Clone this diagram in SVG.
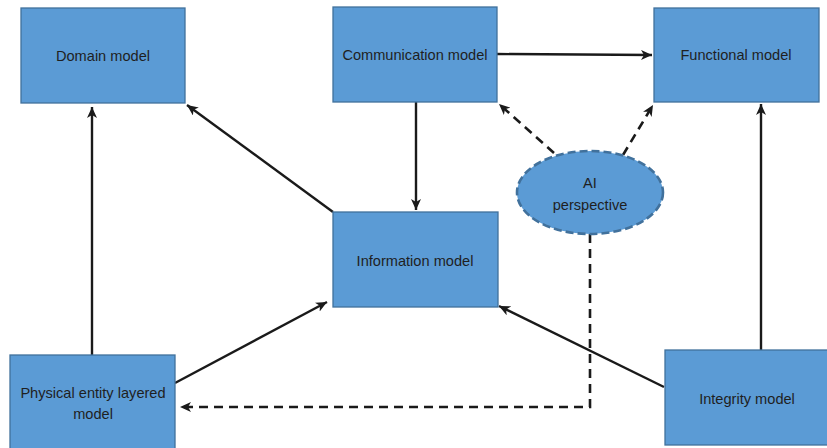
<svg xmlns="http://www.w3.org/2000/svg" width="827" height="448" viewBox="0 0 827 448">
<defs>
<style>
.box{fill:#5B9BD5;stroke:#41719C;stroke-width:1.3}
.lbl{font-family:"Liberation Sans",Arial,sans-serif;font-size:14.6px;fill:#1f1f1f;text-anchor:middle}
.c{fill:none;stroke:#1a1a1a;stroke-width:2.4}
.d{fill:none;stroke:#1a1a1a;stroke-width:2.6;stroke-dasharray:9,6}
</style>
<marker id="ah" markerUnits="userSpaceOnUse" markerWidth="12" markerHeight="10" refX="11" refY="5" orient="auto">
<path d="M0,0 L11,5 L0,10 L3,5 Z" fill="#1a1a1a"/>
</marker>
</defs>
<rect width="827" height="448" fill="#ffffff"/>
<g id="connectors">
<line class="c" x1="497" y1="54" x2="652" y2="55" marker-end="url(#ah)"/>
<line class="c" x1="416" y1="102" x2="416" y2="210" marker-end="url(#ah)"/>
<line class="c" x1="333" y1="212" x2="187" y2="105" marker-end="url(#ah)"/>
<line class="c" x1="92" y1="355" x2="92" y2="107" marker-end="url(#ah)"/>
<line class="c" x1="175" y1="383" x2="327" y2="302" marker-end="url(#ah)"/>
<line class="c" x1="664" y1="387" x2="499" y2="306" marker-end="url(#ah)"/>
<line class="c" x1="761" y1="350" x2="761" y2="104" marker-end="url(#ah)"/>
<line class="d" x1="554" y1="153" x2="499" y2="104" marker-end="url(#ah)"/>
<line class="d" x1="623" y1="155" x2="653" y2="105" marker-end="url(#ah)"/>
<polyline class="d" points="590,234 590,407 180,407" marker-end="url(#ah)"/>
</g>
<g id="domain">
<rect class="box" x="21" y="8" width="164" height="95"/>
<text class="lbl" x="103" y="61">Domain model</text>
</g>
<g id="communication">
<rect class="box" x="333" y="7" width="164" height="95"/>
<text class="lbl" x="415" y="60">Communication model</text>
</g>
<g id="functional">
<rect class="box" x="654" y="8" width="165" height="94"/>
<text class="lbl" x="736" y="60">Functional model</text>
</g>
<g id="information">
<rect class="box" x="333" y="212" width="165" height="95"/>
<text class="lbl" x="415" y="266">Information model</text>
</g>
<g id="physical">
<rect class="box" x="10" y="355" width="165" height="100"/>
<text class="lbl" x="93" y="398">Physical entity layered</text>
<text class="lbl" x="93" y="419">model</text>
</g>
<g id="integrity">
<rect class="box" x="665" y="350" width="165" height="95"/>
<text class="lbl" x="747" y="404">Integrity model</text>
</g>
<g id="ai">
<ellipse cx="590" cy="192.5" rx="73" ry="41.5" fill="#5B9BD5" stroke="#41719C" stroke-width="2.6" stroke-dasharray="8,4"/>
<text class="lbl" x="590" y="188">AI</text>
<text class="lbl" x="590" y="210">perspective</text>
</g>
</svg>
